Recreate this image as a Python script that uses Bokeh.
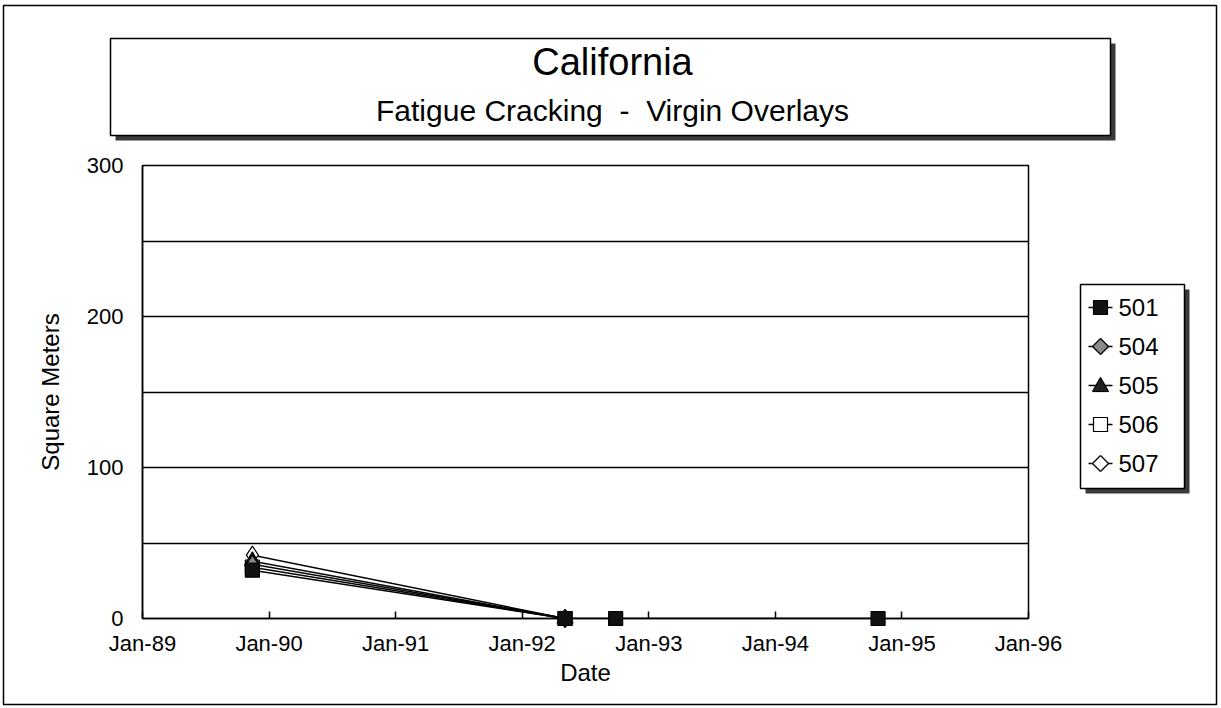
import pandas as pd
from bokeh.plotting import figure
from bokeh.models import Range1d, FixedTicker, DatetimeTickFormatter, ColumnDataSource
from bokeh.core.properties import value
from bokeh.embed import file_html
from bokeh.resources import INLINE

# ---------------- data ----------------
title_text = "California"
subtitle_text = "Fatigue Cracking \u00a0-\u00a0 Virgin Overlays"
x_label = "Date"
y_label = "Square Meters"

series_names = ["501", "504", "505", "506", "507"]
dates_501 = ["1989-11-14", "1992-05-04", "1992-09-27", "1994-10-24"]
values_501 = [32, 0, 0, 0]
dates_504 = ["1989-11-14", "1992-05-04"]
values_504 = [36, 0]
dates_505 = ["1989-11-14", "1992-05-04"]
values_505 = [38, 0]
dates_506 = ["1989-11-14", "1992-05-04"]
values_506 = [34, 0]
dates_507 = ["1989-11-14", "1992-05-04"]
values_507 = [42, 0]

x_tick_dates = ["1989-01-01", "1990-01-01", "1991-01-01", "1992-01-01",
                "1993-01-01", "1994-01-01", "1995-01-01", "1996-01-01"]
x_tick_labels = ["Jan-89", "Jan-90", "Jan-91", "Jan-92",
                 "Jan-93", "Jan-94", "Jan-95", "Jan-96"]
y_tick_values = [0, 100, 200, 300]
y_grid_values = [50, 100, 150, 200, 250]

FONT = "Liberation Sans"

# ---------------- layout constants (page pixels) ----------------
W, H = 1221, 708
FRAME_L, FRAME_R, FRAME_T, FRAME_B = 142, 1028, 165, 618
OUTER = (3, 1216, 5, 704)           # left, right, top, bottom
TBOX = (110, 1110, 38, 135)         # title box
SHADOW = 5
TITLE_X, TITLE_Y, SUB_Y = 612, 61, 110
LEG_BOX = (1080, 1184, 284, 488)    # legend box
LEG_Y0, LEG_PITCH = 307, 39         # first legend entry centre, entry spacing
LEG_MX, LEG_LINE, LEG_TX = 1100, 12, 1118
LEG_R = 8                           # legend marker half-size


def ms(d):
    return pd.Timestamp(d).value // 10**6


p = figure(width=W, height=H, output_backend="svg", toolbar_location=None,
           x_axis_type="datetime",
           x_range=Range1d(pd.Timestamp(x_tick_dates[0]), pd.Timestamp(x_tick_dates[-1])),
           y_range=Range1d(0, 300),
           min_border_left=FRAME_L, min_border_right=W - FRAME_R,
           min_border_top=FRAME_T, min_border_bottom=H - FRAME_B)
p.background_fill_color = "white"
p.border_fill_color = "white"
p.outline_line_color = "black"
p.outline_line_width = 1.5

# pixel-space ranges for the page decorations
p.extra_x_ranges = {"px": Range1d(FRAME_L, FRAME_R)}
p.extra_y_ranges = {"px": Range1d(FRAME_B, FRAME_T)}

# ---------------- axes ----------------
tick_ms = [ms(d) for d in x_tick_dates]
p.xaxis.ticker = FixedTicker(ticks=tick_ms)
p.xaxis.formatter = DatetimeTickFormatter(
    milliseconds="%b-%y", seconds="%b-%y", minsec="%b-%y", minutes="%b-%y",
    hourmin="%b-%y", hours="%b-%y", days="%b-%y", months="%b-%y", years="%b-%y")
p.xaxis.major_label_overrides = {t_: lab for t_, lab in zip(tick_ms, x_tick_labels)}
p.xaxis.major_tick_in = 7
p.xaxis.major_tick_out = 0
p.xaxis.minor_tick_line_color = None
p.xaxis.major_label_standoff = 12
p.xaxis.axis_label = x_label
p.xaxis.axis_label_standoff = 0

p.yaxis.ticker = FixedTicker(ticks=y_tick_values)
p.yaxis.major_tick_in = 0
p.yaxis.major_tick_out = 0
p.yaxis.minor_tick_line_color = None
p.yaxis.major_label_standoff = 19
p.yaxis.axis_label = y_label
p.yaxis.axis_label_standoff = 20

for ax in (p.xaxis, p.yaxis):
    ax.axis_line_color = "black"
    ax.axis_line_width = 1.5
    ax.major_tick_line_color = "black"
    ax.major_tick_line_width = 1.5
    ax.major_label_text_font = FONT
    ax.major_label_text_font_size = "22px"
    ax.major_label_text_color = "black"
    ax.axis_label_text_font = FONT
    ax.axis_label_text_font_size = "24px"
    ax.axis_label_text_font_style = "normal"
    ax.axis_label_text_color = "black"

p.xgrid.visible = False
p.ygrid.ticker = FixedTicker(ticks=y_grid_values)
p.ygrid.grid_line_color = "black"
p.ygrid.grid_line_width = 1.5

# ---------------- page decorations (unclipped "guide" level) ----------------
deco = dict(x_range_name="px", y_range_name="px", level="guide")
p.quad(left=[OUTER[0]], right=[OUTER[1]], top=[OUTER[2]], bottom=[OUTER[3]],
       fill_color=None, line_color="black", line_width=1.5, **deco)
p.quad(left=[TBOX[0] + SHADOW], right=[TBOX[1] + SHADOW],
       top=[TBOX[2] + SHADOW], bottom=[TBOX[3] + SHADOW],
       fill_color="#3a3a3a", line_color=None, **deco)
p.quad(left=[TBOX[0]], right=[TBOX[1]], top=[TBOX[2]], bottom=[TBOX[3]],
       fill_color="white", line_color="black", line_width=1.5, **deco)
p.text(x=[TITLE_X], y=[TITLE_Y], text=[title_text], text_align="center",
       text_baseline="middle", text_font=value(FONT), text_font_size="38px",
       text_color="black", **deco)
p.text(x=[TITLE_X], y=[SUB_Y], text=[subtitle_text], text_align="center",
       text_baseline="middle", text_font=value(FONT), text_font_size="30px",
       text_color="black", **deco)
# legend frame + shadow
p.quad(left=[LEG_BOX[0] + SHADOW], right=[LEG_BOX[1] + SHADOW],
       top=[LEG_BOX[2] + SHADOW], bottom=[LEG_BOX[3] + SHADOW],
       fill_color="#3a3a3a", line_color=None, **deco)
p.quad(left=[LEG_BOX[0]], right=[LEG_BOX[1]], top=[LEG_BOX[2]], bottom=[LEG_BOX[3]],
       fill_color="white", line_color="black", line_width=1.5, **deco)

# ---------------- series ----------------
all_dates = [dates_501, dates_504, dates_505, dates_506, dates_507]
all_values = [values_501, values_504, values_505, values_506, values_507]
markers = ["square", "diamond", "triangle", "square", "diamond"]
fills = ["#111111", "#8a8a8a", "#222222", "white", "white"]
sizes = [14, 18, 16, 14, 18]

sources = [ColumnDataSource(dict(x=pd.to_datetime(d), y=v)) for d, v in zip(all_dates, all_values)]
for s in sources:
    p.line("x", "y", source=s, line_color="black", line_width=1.5)
# markers: first series drawn last so that it sits on top
for s, m, f, z in reversed(list(zip(sources, markers, fills, sizes))):
    p.scatter("x", "y", source=s, marker=m, size=z, fill_color=f,
              line_color="black", line_width=1.2, level="annotation")

# ---------------- legend entries ----------------
leg = dict(x_range_name="px", y_range_name="px", level="annotation")
leg_y = [LEG_Y0 + i * LEG_PITCH for i in range(len(series_names))]
p.segment(x0=[LEG_MX - LEG_LINE] * len(leg_y), x1=[LEG_MX + LEG_LINE] * len(leg_y),
          y0=leg_y, y1=leg_y, line_color="black", line_width=1.5, **leg)


def legend_marker(kind, cx, cy, fill):
    r = LEG_R
    if kind == "square":
        q = r - 1
        p.quad(left=[cx - q], right=[cx + q], top=[cy - q], bottom=[cy + q],
               fill_color=fill, line_color="black", line_width=1.2, **leg)
        return
    if kind == "diamond":
        xs = [cx - r, cx, cx + r]
        lo = [cy, cy + r, cy]
        hi = [cy, cy - r, cy]
        pts = [(cx - r, cy), (cx, cy - r), (cx + r, cy), (cx, cy + r)]
    else:  # triangle
        b = cy + 0.75 * r
        xs = [cx - r, cx, cx + r]
        lo = [b, b, b]
        hi = [b, cy - r, b]
        pts = [(cx - r, b), (cx, cy - r), (cx + r, b)]
    p.varea(x=xs, y1=lo, y2=hi, fill_color=fill, **leg)
    n = len(pts)
    p.segment(x0=[pts[i][0] for i in range(n)], y0=[pts[i][1] for i in range(n)],
              x1=[pts[(i + 1) % n][0] for i in range(n)], y1=[pts[(i + 1) % n][1] for i in range(n)],
              line_color="black", line_width=1.2, **leg)


for yy, m, f in zip(leg_y, markers, fills):
    legend_marker(m, LEG_MX, yy, f)

p.text(x=[LEG_TX] * len(leg_y), y=leg_y, text=series_names, text_align="left",
       text_baseline="middle", text_font=value(FONT), text_font_size="24px",
       text_color="black", **leg)

open("out.html", "w").write(file_html(p, INLINE))
